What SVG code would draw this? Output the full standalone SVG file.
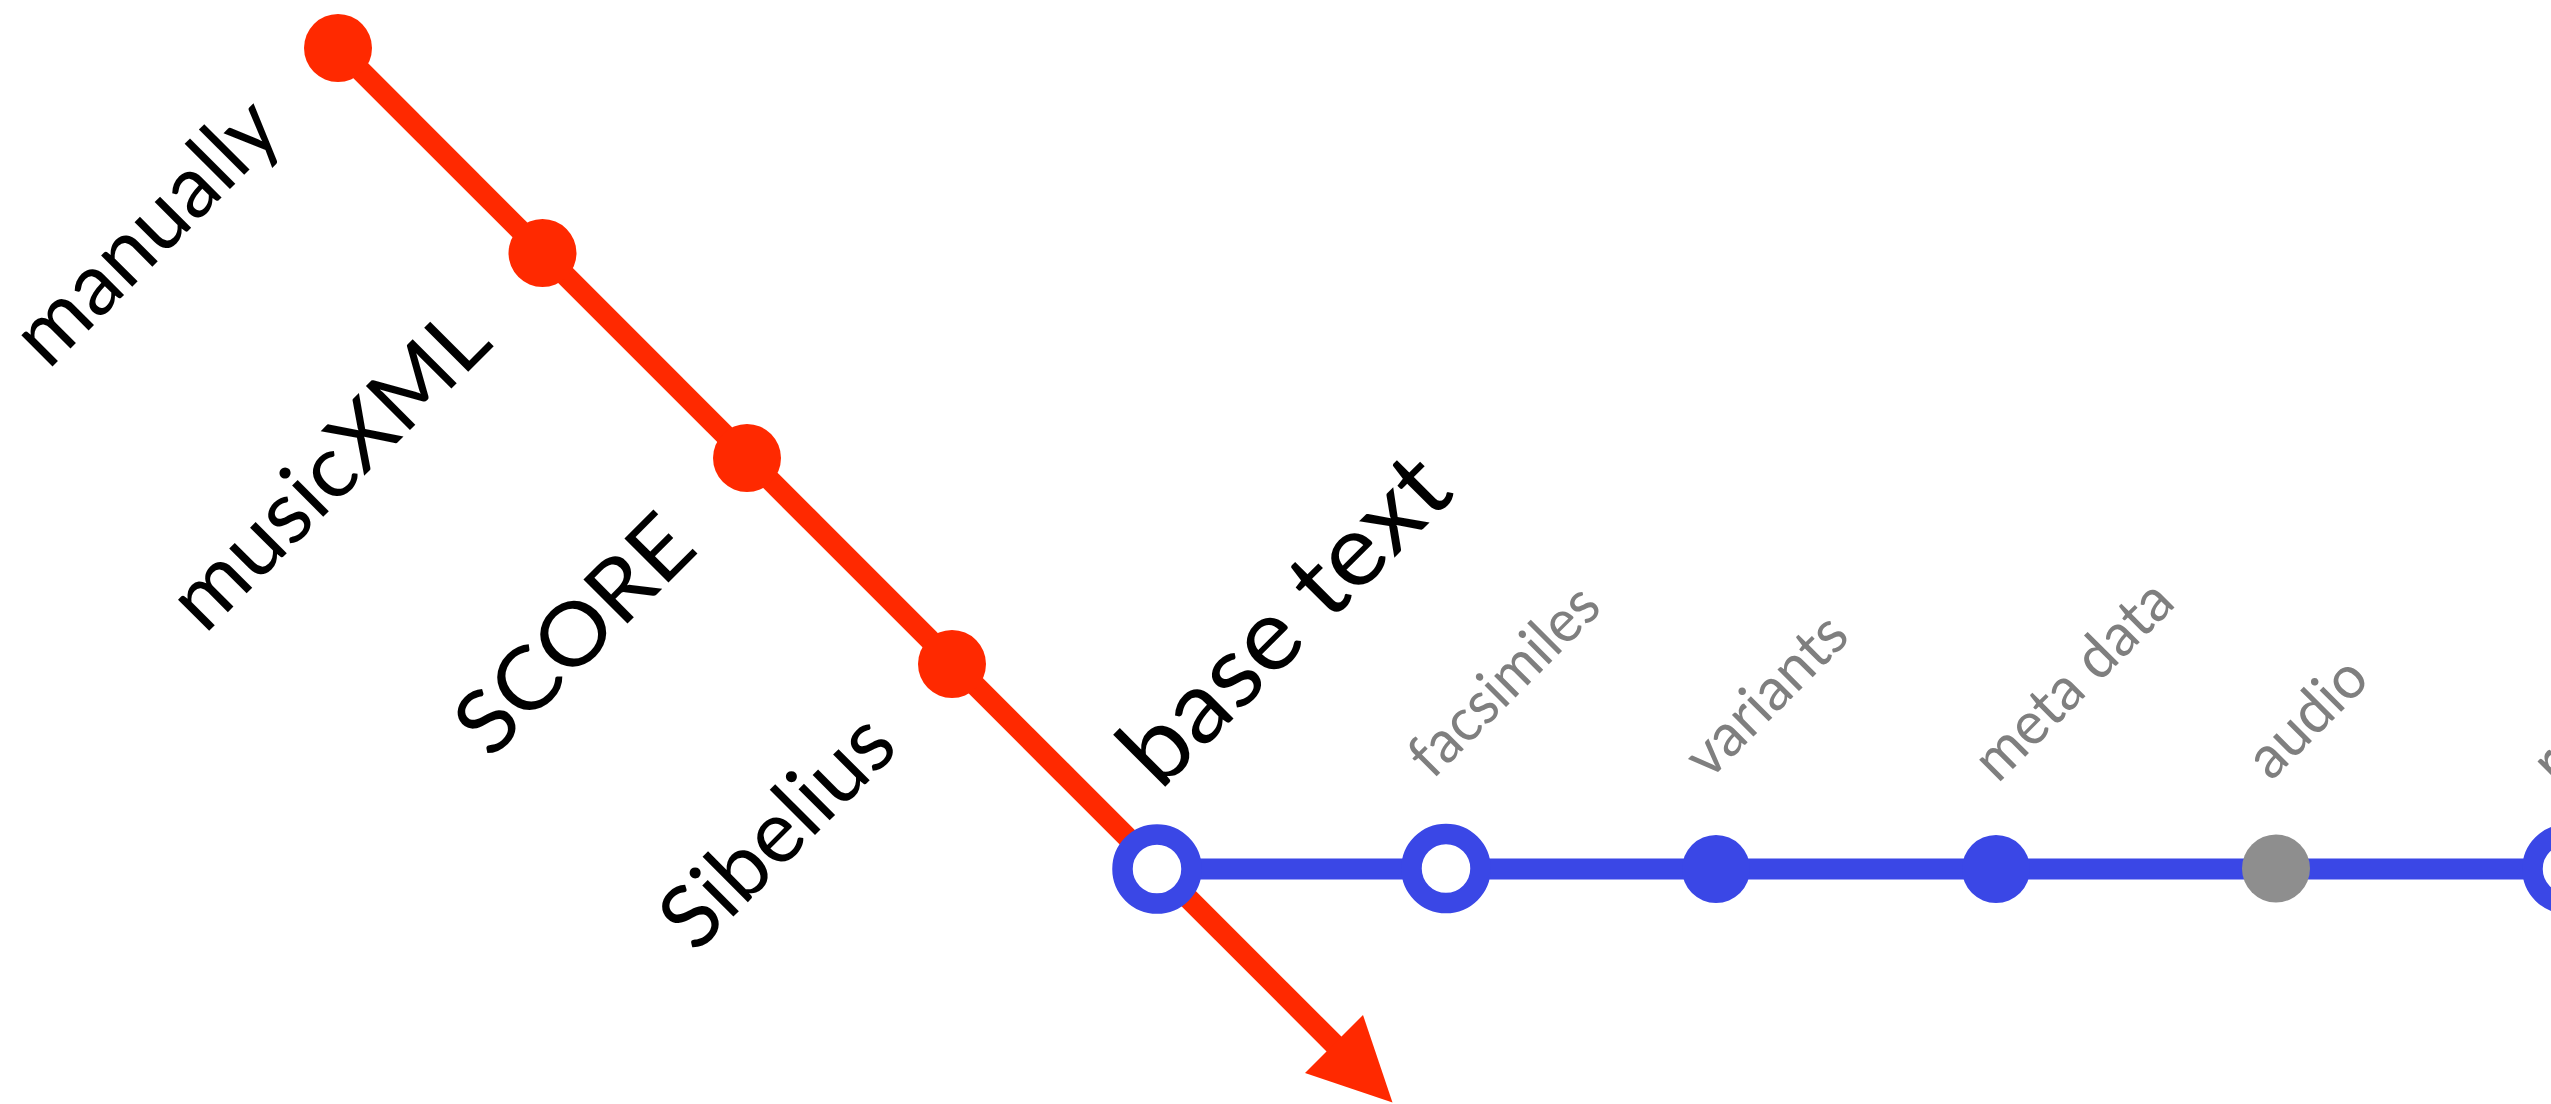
<svg xmlns="http://www.w3.org/2000/svg" width="2551" height="1104" viewBox="0 0 2551 1104">
<style>
.blk{font-family:Lato,"Open Sans","Liberation Sans",sans-serif;font-size:87px;fill:#000}
.big{font-size:100px}
.gry{font-family:Lato,"Open Sans","Liberation Sans",sans-serif;font-size:60px;fill:#7f7f7f}
.red{fill:#ff2900}
.ring{fill:#fff;stroke:#3a47e6;stroke-width:20.5}
.blue{fill:#3a47e6}
.grey{fill:#8e8e8e}
</style>
<rect width="2551" height="1104" fill="#fff"/>
<g id="connectors">
<line x1="338" y1="48" x2="1340" y2="1050" stroke="#ff2900" stroke-width="21"/>
<polygon points="1392.5,1102.5 1363,1015 1305,1073" fill="#ff2900"/>
<line x1="1157" y1="869" x2="2551" y2="869" stroke="#3a47e6" stroke-width="21"/>
</g>
<g id="manually">
<circle class="red" cx="338" cy="48" r="34"/>
<text class="blk" x="48.3" y="370.7" transform="rotate(-45 48.3 370.7)" textLength="335" lengthAdjust="spacingAndGlyphs">manually</text>
</g>
<g id="musicXML">
<circle class="red" cx="542.5" cy="253" r="34"/>
<text class="blk" x="204.7" y="635.3" transform="rotate(-45 204.7 635.3)" textLength="410" lengthAdjust="spacingAndGlyphs">musicXML</text>
</g>
<g id="SCORE">
<circle class="red" cx="747" cy="458" r="34"/>
<text class="blk" x="490.5" y="760.5" transform="rotate(-45 490.5 760.5)" textLength="297" lengthAdjust="spacingAndGlyphs">SCORE</text>
</g>
<g id="Sibelius">
<circle class="red" cx="952" cy="664" r="34"/>
<text class="blk" x="695.6" y="954.4" transform="rotate(-45 695.6 954.4)" textLength="290" lengthAdjust="spacingAndGlyphs">Sibelius</text>
</g>
<g id="base-text">
<circle class="ring" cx="1157" cy="869" r="34.5"/>
<text class="blk big" x="1159.9" y="792.1" transform="rotate(-45 1159.9 792.1)" textLength="420" lengthAdjust="spacingAndGlyphs">base text</text>
</g>
<g id="facsimiles">
<circle class="ring" cx="1446" cy="868.5" r="34.5"/>
<text class="gry" x="1432.5" y="780.5" transform="rotate(-45 1432.5 780.5)" textLength="242" lengthAdjust="spacingAndGlyphs">facsimiles</text>
</g>
<g id="variants">
<circle class="blue" cx="1716" cy="869" r="34"/>
<text class="gry" x="1708.9" y="781.1" transform="rotate(-45 1708.9 781.1)" textLength="202" lengthAdjust="spacingAndGlyphs">variants</text>
</g>
<g id="meta-data">
<circle class="blue" cx="1996" cy="869" r="34"/>
<text class="gry" x="1997.7" y="784.3" transform="rotate(-45 1997.7 784.3)" textLength="254" lengthAdjust="spacingAndGlyphs">meta data</text>
</g>
<g id="audio">
<circle class="grey" cx="2276" cy="868.5" r="34"/>
<text class="gry" x="2271.1" y="781.9" transform="rotate(-45 2271.1 781.9)" textLength="142" lengthAdjust="spacingAndGlyphs">audio</text>
</g>
<g id="last">
<circle class="ring" cx="2567" cy="869" r="34.5"/>
<text class="gry" x="2556" y="786" transform="rotate(-45 2556 786)">r</text>
</g>
</svg>
